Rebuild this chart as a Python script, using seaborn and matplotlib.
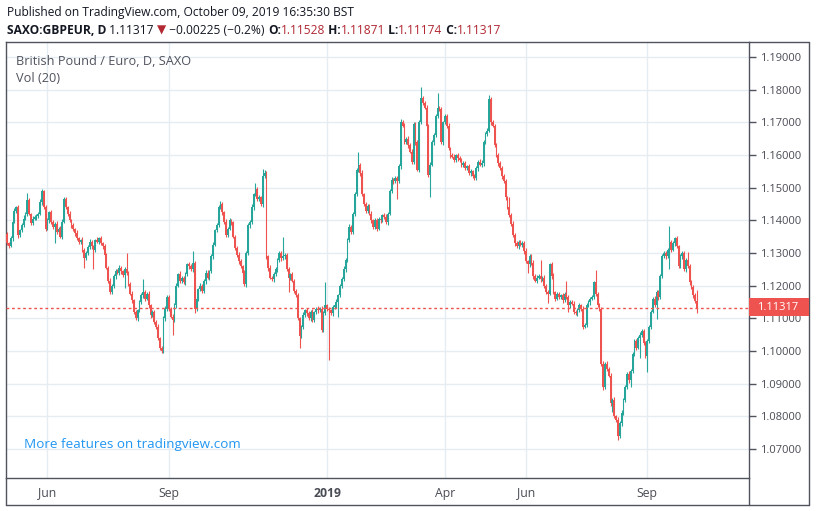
import numpy as np
import pandas as pd
import matplotlib
matplotlib.use("Agg")
import matplotlib.pyplot as plt
from matplotlib.patches import Rectangle
from matplotlib.lines import Line2D
import seaborn as sns

# daily closes, in pips above 1.0000 (1330 -> 1.1330)
closes_pips = [
    1330, 1322, 1345, 1395, 1430, 1440, 1355, 1370, 1385, 1405, 1420, 1462, 1420, 1392, 1405, 1410, 1412, 1420, 1455, 1490, 1440, 1375, 1400, 1425, 1395,
    1380, 1390, 1365, 1375, 1350, 1395, 1465, 1440, 1420, 1400, 1385, 1372, 1360, 1345, 1335, 1340, 1310, 1285, 1300, 1318, 1335, 1320, 1310, 1340, 1335,
    1345, 1330, 1320, 1295, 1255, 1215, 1180, 1200, 1230, 1245, 1240, 1255, 1245, 1232, 1250, 1240, 1205, 1175, 1155, 1120, 1100, 1125, 1150, 1170, 1180,
    1160, 1175, 1140, 1110, 1120, 1090, 1075, 1040, 1010, 1000, 1100, 1130, 1165, 1130, 1105, 1095, 1140, 1200, 1235, 1215, 1225, 1210, 1235, 1265, 1260,
    1250, 1270, 1130, 1160, 1190, 1200, 1185, 1215, 1240, 1225, 1245, 1290, 1325, 1370, 1385, 1440, 1450, 1425, 1395, 1355, 1375, 1400, 1395, 1350, 1315,
    1295, 1275, 1260, 1240, 1205, 1300, 1385, 1395, 1440, 1480, 1495, 1465, 1470, 1450, 1535, 1545, 1290, 1255, 1225, 1220, 1235, 1250, 1280, 1300, 1285,
    1290, 1295, 1250, 1225, 1235, 1215, 1185, 1170, 1100, 1045, 1075, 1110, 1125, 1115, 1100, 1120, 1095, 1120, 1130, 1125, 1130, 1065, 1115, 1140, 1130,
    1125, 1115, 1135, 1140, 1150, 1170, 1200, 1220, 1250, 1280, 1340, 1380, 1365, 1420, 1480, 1555, 1570, 1545, 1480, 1450, 1430, 1445, 1420, 1400, 1380,
    1400, 1375, 1405, 1400, 1415, 1410, 1395, 1420, 1490, 1525, 1520, 1530, 1520, 1565, 1700, 1690, 1640, 1650, 1630, 1610, 1580, 1695, 1640, 1555, 1700,
    1775, 1760, 1745, 1690, 1540, 1570, 1640, 1660, 1720, 1745, 1740, 1640, 1700, 1720, 1690, 1620, 1600, 1595, 1585, 1600, 1590, 1585, 1570, 1575, 1560,
    1565, 1545, 1550, 1535, 1530, 1560, 1580, 1570, 1575, 1640, 1665, 1675, 1770, 1700, 1690, 1630, 1600, 1575, 1560, 1535, 1520, 1470, 1440, 1415, 1390,
    1355, 1330, 1320, 1335, 1325, 1330, 1305, 1275, 1265, 1290, 1270, 1230, 1215, 1225, 1230, 1220, 1225, 1200, 1180, 1175, 1265, 1230, 1180, 1160, 1175,
    1165, 1170, 1155, 1175, 1165, 1140, 1150, 1145, 1120, 1115, 1125, 1140, 1130, 1075, 1080, 1140, 1150, 1160, 1165, 1210, 1175, 1140, 1130, 960, 890,
    960, 945, 925, 840, 850, 800, 790, 740, 780, 810, 850, 890, 930, 910, 940, 990, 1030, 1010, 1040, 1050, 1060, 1025, 985, 1030, 1075,
    1120, 1160, 1140, 1180, 1165, 1230, 1290, 1300, 1290, 1310, 1335, 1310, 1330, 1345, 1320, 1260, 1290, 1300, 1250, 1280, 1260, 1210, 1195, 1170, 1153, 1131.7,
]
first_open_pips = 1358

upper_wick_pips = [
    5, 4, 8, 6, 9, 5, 7, 4, 6, 10, 5, 22, 6, 4, 8, 5, 7, 6, 9, 5, 4, 8, 6, 5, 7,
    6, 5, 8, 4, 7, 9, 5, 6, 4, 8, 5, 7, 6, 10, 5, 4, 8, 6, 5, 7, 9, 5, 6, 4, 8,
    5, 7, 4, 8, 6, 5, 9, 4, 7, 6, 5, 8, 6, 4, 7, 50, 5, 6, 8, 4, 7, 5, 6, 9, 40,
    6, 5, 8, 4, 7, 5, 6, 9, 4, 5, 7, 8, 6, 5, 4, 7, 6, 8, 5, 9, 4, 6, 7, 5, 8,
    6, 36, 5, 7, 4, 8, 6, 5, 7, 9, 4, 6, 8, 5, 7, 6, 9, 5, 4, 8, 6, 7, 5, 4, 6,
    5, 7, 6, 4, 8, 5, 6, 7, 9, 5, 19, 6, 8, 5, 22, 8, 6, 4, 7, 5, 8, 6, 5, 7, 6,
    60, 6, 5, 8, 4, 7, 6, 5, 9, 4, 6, 8, 5, 7, 6, 5, 9, 4, 6, 7, 5, 8, 6, 70, 5,
    6, 4, 7, 5, 8, 6, 5, 7, 9, 4, 6, 8, 5, 7, 6, 5, 40, 6, 8, 4, 7, 5, 6, 9, 5,
    6, 8, 5, 7, 4, 6, 9, 5, 7, 8, 6, 5, 7, 6, 10, 6, 8, 5, 7, 6, 9, 5, 7, 6, 8,
    33, 7, 6, 8, 5, 9, 6, 7, 5, 45, 6, 8, 5, 7, 6, 9, 5, 6, 8, 4, 7, 6, 5, 8, 6,
    5, 7, 6, 4, 8, 6, 5, 7, 9, 5, 6, 8, 14, 7, 6, 5, 8, 6, 7, 5, 6, 8, 5, 30, 6,
    7, 5, 8, 6, 4, 7, 6, 9, 5, 7, 6, 8, 5, 7, 6, 50, 5, 8, 6, 7, 5, 6, 8, 5, 7,
    6, 5, 8, 7, 40, 5, 7, 6, 8, 5, 6, 7, 5, 8, 6, 7, 5, 6, 8, 5, 38, 6, 7, 5, 8,
    6, 8, 5, 7, 6, 9, 5, 7, 6, 8, 5, 7, 6, 9, 5, 7, 6, 8, 5, 7, 6, 8, 5, 7, 6,
    7, 5, 8, 6, 7, 5, 8, 6, 7, 5, 48, 6, 8, 5, 7, 6, 8, 5, 7, 6, 23, 5, 7, 6, 8, 34.3,
]
lower_wick_pips = [
    6, 8, 5, 7, 4, 6, 9, 5, 7, 6, 5, 8, 4, 7, 6, 5, 8, 6, 4, 7, 5, 9, 6, 8, 5,
    7, 50, 6, 8, 5, 7, 4, 6, 8, 5, 7, 6, 9, 5, 7, 6, 8, 30, 6, 5, 7, 8, 60, 6, 5,
    8, 5, 7, 6, 4, 8, 6, 5, 7, 9, 5, 6, 8, 4, 40, 6, 7, 5, 8, 6, 5, 7, 6, 5, 8,
    6, 5, 7, 8, 5, 6, 7, 5, 8, 6, 5, 7, 6, 8, 5, 45, 6, 7, 5, 8, 6, 5, 7, 6, 8,
    5, 7, 15, 6, 8, 5, 7, 6, 9, 5, 7, 6, 8, 5, 7, 6, 5, 8, 6, 7, 5, 6, 8, 5, 7,
    6, 8, 5, 7, 6, 9, 5, 7, 6, 8, 5, 6, 7, 5, 8, 6, 7, 9, 5, 6, 8, 5, 7, 6, 8,
    5, 7, 6, 45, 8, 5, 7, 6, 5, 35, 6, 8, 5, 7, 6, 9, 5, 7, 6, 8, 5, 7, 6, 5, 8,
    152, 6, 8, 5, 7, 45, 6, 8, 5, 7, 6, 5, 8, 6, 7, 5, 6, 8, 5, 7, 6, 8, 5, 7, 6,
    5, 7, 6, 8, 5, 7, 6, 9, 5, 6, 8, 7, 55, 6, 8, 5, 7, 6, 9, 5, 7, 6, 8, 5, 7,
    6, 8, 5, 7, 6, 70, 5, 8, 6, 7, 5, 6, 8, 5, 7, 6, 9, 5, 7, 6, 8, 5, 6, 7, 5,
    7, 6, 8, 5, 7, 6, 9, 5, 6, 8, 5, 7, 6, 8, 5, 7, 6, 9, 5, 7, 6, 8, 5, 6, 7,
    5, 8, 6, 7, 5, 6, 8, 5, 25, 7, 6, 8, 5, 7, 6, 9, 5, 7, 6, 28, 5, 8, 6, 7, 5,
    7, 6, 8, 5, 6, 20, 7, 5, 8, 6, 7, 5, 6, 8, 5, 7, 6, 8, 5, 7, 6, 5, 8, 6, 9,
    6, 7, 5, 8, 27, 6, 7, 12, 6, 8, 5, 7, 6, 8, 20, 7, 6, 8, 5, 60, 6, 7, 5, 50, 6,
    7, 5, 6, 42, 8, 6, 7, 5, 8, 6, 60, 7, 5, 8, 6, 7, 5, 8, 6, 7, 5, 8, 6, 7, 5, 14.3,
]

month_ticks = [22, 88, 174, 238, 282, 348]
month_labels = ["Jun", "Sep", "2019", "Apr", "Jun", "Sep"]
price_ticks = [1.07, 1.08, 1.09, 1.10, 1.11, 1.12, 1.13, 1.14, 1.15, 1.16, 1.17, 1.18, 1.19]
last_price = 1.11317

assert len(closes_pips) == len(upper_wick_pips) == len(lower_wick_pips) == 376

# --- build OHLC table ---
df = pd.DataFrame({"close": 1 + np.array(closes_pips) / 1e4})
df["open"] = np.r_[1 + first_open_pips / 1e4, df["close"].values[:-1]]
df["high"] = df[["open", "close"]].max(axis=1) + np.array(upper_wick_pips) / 1e4
df["low"] = df[["open", "close"]].min(axis=1) - np.array(lower_wick_pips) / 1e4
df["idx"] = np.arange(len(df))
df["up"] = df["close"] >= df["open"]

UP, DOWN = "#26a69a", "#ef5350"
GRID = "#e5edf2"
BORDER = "#50535e"
LABEL = "#4a4c55"
W, H = 816, 511

sns.set_theme(style="white")
plt.rcParams["font.family"] = ["Open Sans", "DejaVu Sans"]

fig = plt.figure(figsize=(W / 100, H / 100), dpi=100)
ax = fig.add_axes([6 / W, 1 - 478 / H, 743 / W, 436 / H])

colors = np.where(df["up"], UP, DOWN)
ax.vlines(df["idx"], df["low"], df["high"], colors=colors, linewidth=0.8, zorder=3)
body = (df["close"] - df["open"]).abs().clip(lower=0.00008)
ax.bar(df["idx"], body, bottom=df[["open", "close"]].min(axis=1), width=0.95,
       color=colors, linewidth=0, zorder=4)

ax.axhline(last_price, color=DOWN, linewidth=1, linestyle=(0, (2, 2)), zorder=5)

ax.set_xlim((6 - 7) / 1.84, (749 - 7) / 1.84)
ax.set_ylim(1.19 - 421 / 3267, 1.19 + 15 / 3267)

ax.set_yticks(price_ticks)
ax.set_yticklabels([f"{p:.5f}" for p in price_ticks])
ax.yaxis.tick_right()
ax.tick_params(axis="y", length=5, width=1, color=BORDER, pad=3, labelsize=8, labelcolor=LABEL)
ax.set_xticks(month_ticks)
ax.set_xticklabels([])
ax.tick_params(axis="x", length=5, width=1, color=BORDER, direction="out")
ax.grid(True, color=GRID, linewidth=1)
ax.set_axisbelow(True)
for side, sp in ax.spines.items():
    sp.set_color(BORDER)
    sp.set_linewidth(1)

# time axis labels
for pos, lab in zip(month_ticks, month_labels):
    xpx = 7 + 1.84 * pos
    fig.text(xpx / W, 1 - 493 / H, lab, ha="center", va="center", fontsize=8.8,
             color=LABEL, fontweight="bold" if lab == "2019" else "normal")

# outer frame of the price and time scales
fig.add_artist(Line2D([809 / W, 809 / W], [1 - 42 / H, 1 - 505 / H], color=BORDER, linewidth=1))
fig.add_artist(Line2D([6 / W, 809 / W], [1 - 505 / H, 1 - 505 / H], color=BORDER, linewidth=1))
fig.add_artist(Line2D([6 / W, 6 / W], [1 - 478 / H, 1 - 505 / H], color=BORDER, linewidth=1))
fig.add_artist(Line2D([749 / W, 749 / W], [1 - 478 / H, 1 - 505 / H], color=BORDER, linewidth=1))
fig.add_artist(Line2D([749 / W, 809 / W], [1 - 42 / H, 1 - 42 / H], color=BORDER, linewidth=1))

# last price tag
fig.add_artist(Rectangle((749 / W, 1 - 316 / H), 60 / W, 18 / H, transform=fig.transFigure,
                         facecolor=DOWN, edgecolor="none", zorder=5))
fig.text(757 / W, 1 - 307 / H, f"{last_price:.5f}", ha="left", va="center",
         fontsize=8, color="white", zorder=6)

# header rows
renderer = fig.canvas.get_renderer()


def put_row(x_px, y_px, parts, size):
    x = x_px
    for txt, color, weight in parts:
        t = fig.text(x / W, 1 - y_px / H, txt, color=color, fontweight=weight,
                     fontsize=size, ha="left", va="baseline")
        x += t.get_window_extent(renderer=renderer).width


DARK, RED = "#131722", "#b22833"
put_row(7, 16, [("Published on TradingView.com, October 09, 2019 16:35:30 BST", DARK, "normal")], 8.65)
put_row(7, 34, [("SAXO:GBPEUR, D", DARK, "bold"), (" 1.11317 ", DARK, "normal"),
                ("▼", RED, "normal"), (" \u22120.00225 (\u22120.2%) ", DARK, "normal"),
                ("O:", DARK, "bold"), ("1.11528", RED, "normal"),
                (" H:", DARK, "bold"), ("1.11871", RED, "normal"),
                (" L:", DARK, "bold"), ("1.11174", RED, "normal"),
                (" C:", DARK, "bold"), ("1.11317", RED, "normal")], 8.65)
put_row(16, 65, [("British Pound / Euro, D, SAXO", "#50535e", "normal")], 9.2)
put_row(16, 82, [("Vol (20)", "#50535e", "normal")], 9.2)
put_row(24, 448, [("More features on tradingview.com", "#2196f3", "normal")], 9.7)

fig.savefig("out.png", dpi=100)
